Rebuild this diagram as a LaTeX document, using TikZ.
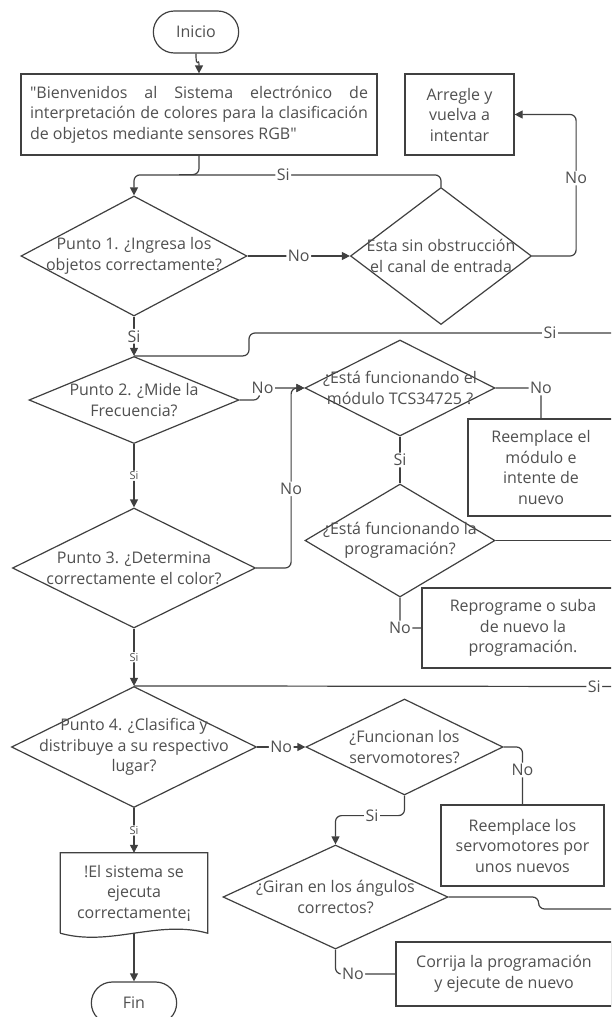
\documentclass[tikz,border=0pt]{standalone}
\usepackage{fontspec}
\setmainfont{Open Sans}
\usepackage{xcolor}
\definecolor{linea}{RGB}{64,64,64}
\definecolor{texto}{RGB}{80,80,80}
\usetikzlibrary{shapes.geometric, shapes.misc, arrows.meta}
% comilla recta, sin pasar por el mapeo tex-text
\newcommand{\comilla}{\XeTeXglyph\XeTeXcharglyph"22\relax}

\begin{document}
\begin{tikzpicture}[x=1pt, y=-1pt,
  every node/.style={text=texto, font=\fontsize{16}{20.5}\selectfont},
  conector/.style={draw=linea, line width=1.2pt, rounded corners=6pt},
  flecha/.style={conector, -{Triangle[length=8pt, width=8pt]}},
  caja/.style={draw=linea, line width=1.2pt, align=center, inner sep=0pt},
  decision/.style={diamond, draw=linea, line width=1.2pt, inner sep=0pt},
  terminal/.style={rounded rectangle, draw=linea, line width=1.2pt, minimum width=92, minimum height=42},
  etiqueta/.style={fill=white, inner sep=1.5pt},
  sichico/.style={fill=white, inner sep=1pt, font=\fontsize{11}{12}\selectfont}]

  % Hoja
  \useasboundingbox (0,0) rectangle (611,1017);
  \clip (0,0) rectangle (611,1017);
  \fill[white] (0,0) rectangle (611,1017);

  % Inicio y bienvenida
  \node[terminal] (inicio) at (196,32) {Inicio};
  \node[caja, text width=338, inner xsep=9, minimum height=81, align=justify] (bienv) at (199,114.5)
    {\comilla Bienvenidos al Sistema electrónico de\linebreak interpretación de colores para la clasificación\linebreak de objetos mediante sensores RGB\comilla};
  \node[caja, minimum width=109, minimum height=81] (arregle) at (459.5,114.5) {Arregle y\\vuelva a\\intentar};

  % Decisiones principales (columna izquierda)
  \node[decision, minimum width=226, minimum height=120] (p1) at (134,256) {};
  \node[align=center] at (p1) {Punto 1. ¿Ingresa los\\objetos correctamente?};
  \node[decision, minimum width=210, minimum height=87] (p2) at (134,400) {};
  \node[align=center] at (p2) {Punto 2. ¿Mide la\\Frecuencia?};
  \node[decision, minimum width=243, minimum height=120] (p3) at (134,568) {};
  \node[align=center] at (p3) {Punto 3. ¿Determina\\correctamente el color?};
  \node[decision, minimum width=245, minimum height=121] (p4) at (134,747) {};
  \node[align=center] at (p4) {Punto 4. ¿Clasifica y\\distribuye a su respectivo\\lugar?};

  % Documento final y fin
  \node[minimum width=147, minimum height=80, align=center] (doc) at (134,893) {!El sistema se\\ejecuta\\correctamente¡};
  \draw[linea, line width=1.2pt] (doc.south west) -- (doc.north west) -- (doc.north east) -- (doc.south east)
    .. controls +(-50,-14) and +(50,14) .. (doc.south west);
  \node[terminal] (fin) at (134,1003) {Fin};

  % Decisiones de revision (columna derecha)
  \node[decision, minimum width=181, minimum height=137] (obst) at (441,256) {};
  \node[align=center] at (obst) {Esta sin obstrucción\\el canal de entrada};
  \node[decision, minimum width=190, minimum height=96] (tcs) at (400,388) {};
  \node[align=center] at (tcs) {¿Está funcionando el\\módulo TCS34725 ?};
  \node[decision, minimum width=190, minimum height=113] (prog) at (400,540.5) {};
  \node[align=center] at (prog) {¿Está funcionando la\\programación?};
  \node[decision, minimum width=197, minimum height=96] (serv) at (404.5,747) {};
  \node[align=center] at (serv) {¿Funcionan los\\servomotores?};
  \node[decision, minimum width=225, minimum height=104] (giran) at (335.5,897) {};
  \node[align=center] at (giran) {¿Giran en los ángulos\\correctos?};

  % Acciones correctivas
  \node[caja, minimum width=146, minimum height=97] (reemp1) at (541,467.5) {Reemplace el\\módulo e\\intente de\\nuevo};
  \node[caja, minimum width=202, minimum height=80] (reprog) at (523,628) {Reprograme o suba\\de nuevo la\\programación.};
  \node[caja, minimum width=163, minimum height=81] (reemp2) at (522.5,845.5) {Reemplace los\\servomotores por\\unos nuevos};
  \node[caja, minimum width=216, minimum height=64] (corrija) at (504,974) {Corrija la programación\\y ejecute de nuevo};

  % Retornos que salen por la derecha
  \coordinate (volverA) at (616,333);
  \coordinate (volverB) at (616,540.5);
  \coordinate (volverC) at (616,686.5);
  \coordinate (volverD) at (616,909);

  % Conectores
  \draw[flecha] (inicio.south) .. controls +(0,18) and +(0,-18) .. (bienv.north);
  \draw[flecha] (obst.north) -- ++(0,-12) -| node[etiqueta, pos=0.257] {Si} (p1.north);
  \draw[conector] (bienv.south) -- ++(0,19) -- ++(-20,0);
  \draw[flecha] (p1.east) -- node[etiqueta] {No} (obst.west);
  \draw[flecha] (obst.east) -- ++(44,0) |- node[etiqueta, pos=0.275] {No} (arregle.east);

  \draw[flecha] (p1.south) -- node[etiqueta] {Si} (p2.north);
  \draw[conector] (volverA) -- node[etiqueta, pos=0.18] {Si} ++(-367,0) |- (p2.north);
  \draw[flecha] (p2.east) -- ++(20,0) |- node[etiqueta, pos=0.5, xshift=3] {No} (tcs.west);
  \draw[flecha] (p3.east) -- ++(35,0) |- node[etiqueta, pos=0.22] {No} (tcs.west);
  \draw[flecha] (p2.south) -- node[sichico] {Si} (p3.north);

  \draw[conector] (tcs.east) -| node[etiqueta] {No} (reemp1.north);
  \draw[conector] (tcs.south) -- node[etiqueta] {Si} (prog.north);
  \draw[conector] (prog.east) -- (volverB);
  \draw[conector] (prog.south) |- node[etiqueta] {No} (reprog.west);

  \draw[flecha] (p3.south) -- node[sichico] {Si} (p4.north);
  \draw[conector] (volverC) -- node[etiqueta, pos=0.045] {Si} (p4.north);
  \draw[flecha] (p4.east) -- node[etiqueta] {No} (serv.west);
  \draw[conector] (serv.east) -| node[etiqueta, pos=0.7] {No} (reemp2.north);
  \draw[flecha] (serv.south) -- ++(0,20) -| node[etiqueta, pos=0.235] {Si} (giran.north);
  \draw[flecha] (p4.south) -- node[sichico] {Si} (doc.north);
  \draw[flecha] (doc.south) -- (fin.north);
  \draw[conector] (giran.east) -- ++(90,0) -- ++(0,12) -- (volverD);
  \draw[conector] (giran.south) |- node[etiqueta, pos=0.645] {No} (corrija.west);
\end{tikzpicture}
\end{document}
